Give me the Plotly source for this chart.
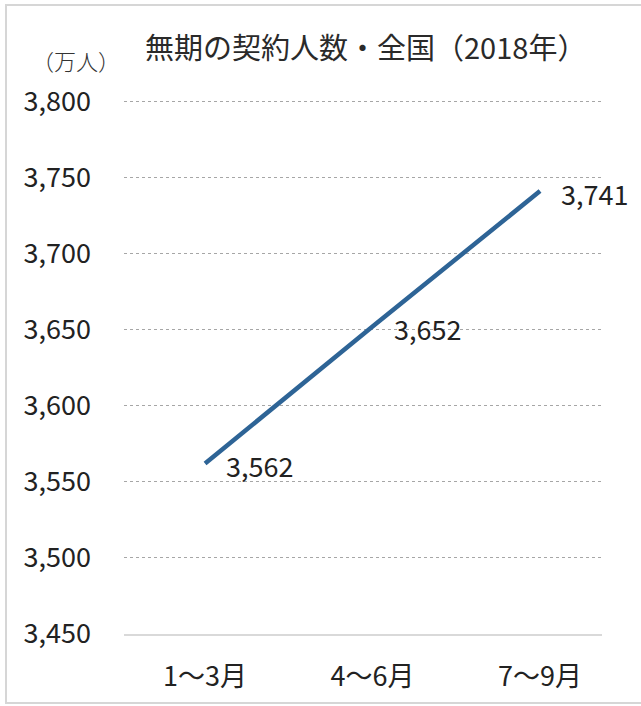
import plotly.graph_objects as go

categories = ["1～3月", "4～6月", "7～9月"]
values = [3562, 3652, 3741]
value_labels = ["3,562", "3,652", "3,741"]
y_ticks = [3450, 3500, 3550, 3600, 3650, 3700, 3750, 3800]
y_tick_labels = ["3,450", "3,500", "3,550", "3,600", "3,650", "3,700", "3,750", "3,800"]

W, H = 641, 706
L, R, T, B = 124, 39, 99, 72
pw, ph = W - L - R, H - T - B

FONT = "Noto Sans CJK JP"
LINE = "#2E6496"
TXT = "#222222"

fig = go.Figure()
fig.add_trace(go.Scatter(
    x=categories, y=values, mode="lines",
    line=dict(color=LINE, width=4.5),
    hoverinfo="skip", showlegend=False,
))

for c, v, t in zip(categories, values, value_labels):
    fig.add_annotation(x=c, y=v, text=t, showarrow=False,
                       xanchor="left", yanchor="middle", xshift=19, yshift=-2,
                       font=dict(family=FONT, size=27, color=TXT))

fig.add_annotation(xref="paper", yref="paper", x=(365 - L) / pw, y=(H - 46 - B) / ph,
                   text="無期の契約人数・全国（2018年）", showarrow=False,
                   xanchor="center", yanchor="middle",
                   font=dict(family=FONT, size=29, color="#2a2a2a"))
fig.add_annotation(xref="paper", yref="paper", x=(76 - L) / pw, y=(H - 60 - B) / ph,
                   text="（万人）", showarrow=False,
                   xanchor="center", yanchor="middle",
                   font=dict(family=FONT, size=22, color="#333333", weight=300))

# outer light frame
fig.add_shape(type="rect", xref="paper", yref="paper",
              x0=(6 - L) / pw, x1=(W + 40 - L) / pw,
              y0=(H - 703 - B) / ph, y1=(H - 5 - B) / ph,
              line=dict(color="#d6d6d6", width=2), layer="below")

fig.update_layout(
    width=W, height=H,
    margin=dict(l=L, r=R, t=T, b=B, autoexpand=False),
    paper_bgcolor="white", plot_bgcolor="white",
    xaxis=dict(
        type="category", range=[-0.484, 2.37],
        showgrid=False, zeroline=False,
        showline=True, linecolor="#d9d9d9", linewidth=2,
        ticks="", ticklabelstandoff=18,
        tickfont=dict(family=FONT, size=27, color=TXT),
    ),
    yaxis=dict(
        range=[3450, 3801.5], tickvals=y_ticks, ticktext=y_tick_labels,
        showgrid=True, gridcolor="#a6a6a6", griddash="dot", gridwidth=1,
        zeroline=False, showline=False, ticks="",
        ticklabelstandoff=32,
        tickfont=dict(family=FONT, size=27, color=TXT),
    ),
)

fig.write_html("out.html", config={"displayModeBar": False},
               post_script="document.body.style.margin='0px';")
